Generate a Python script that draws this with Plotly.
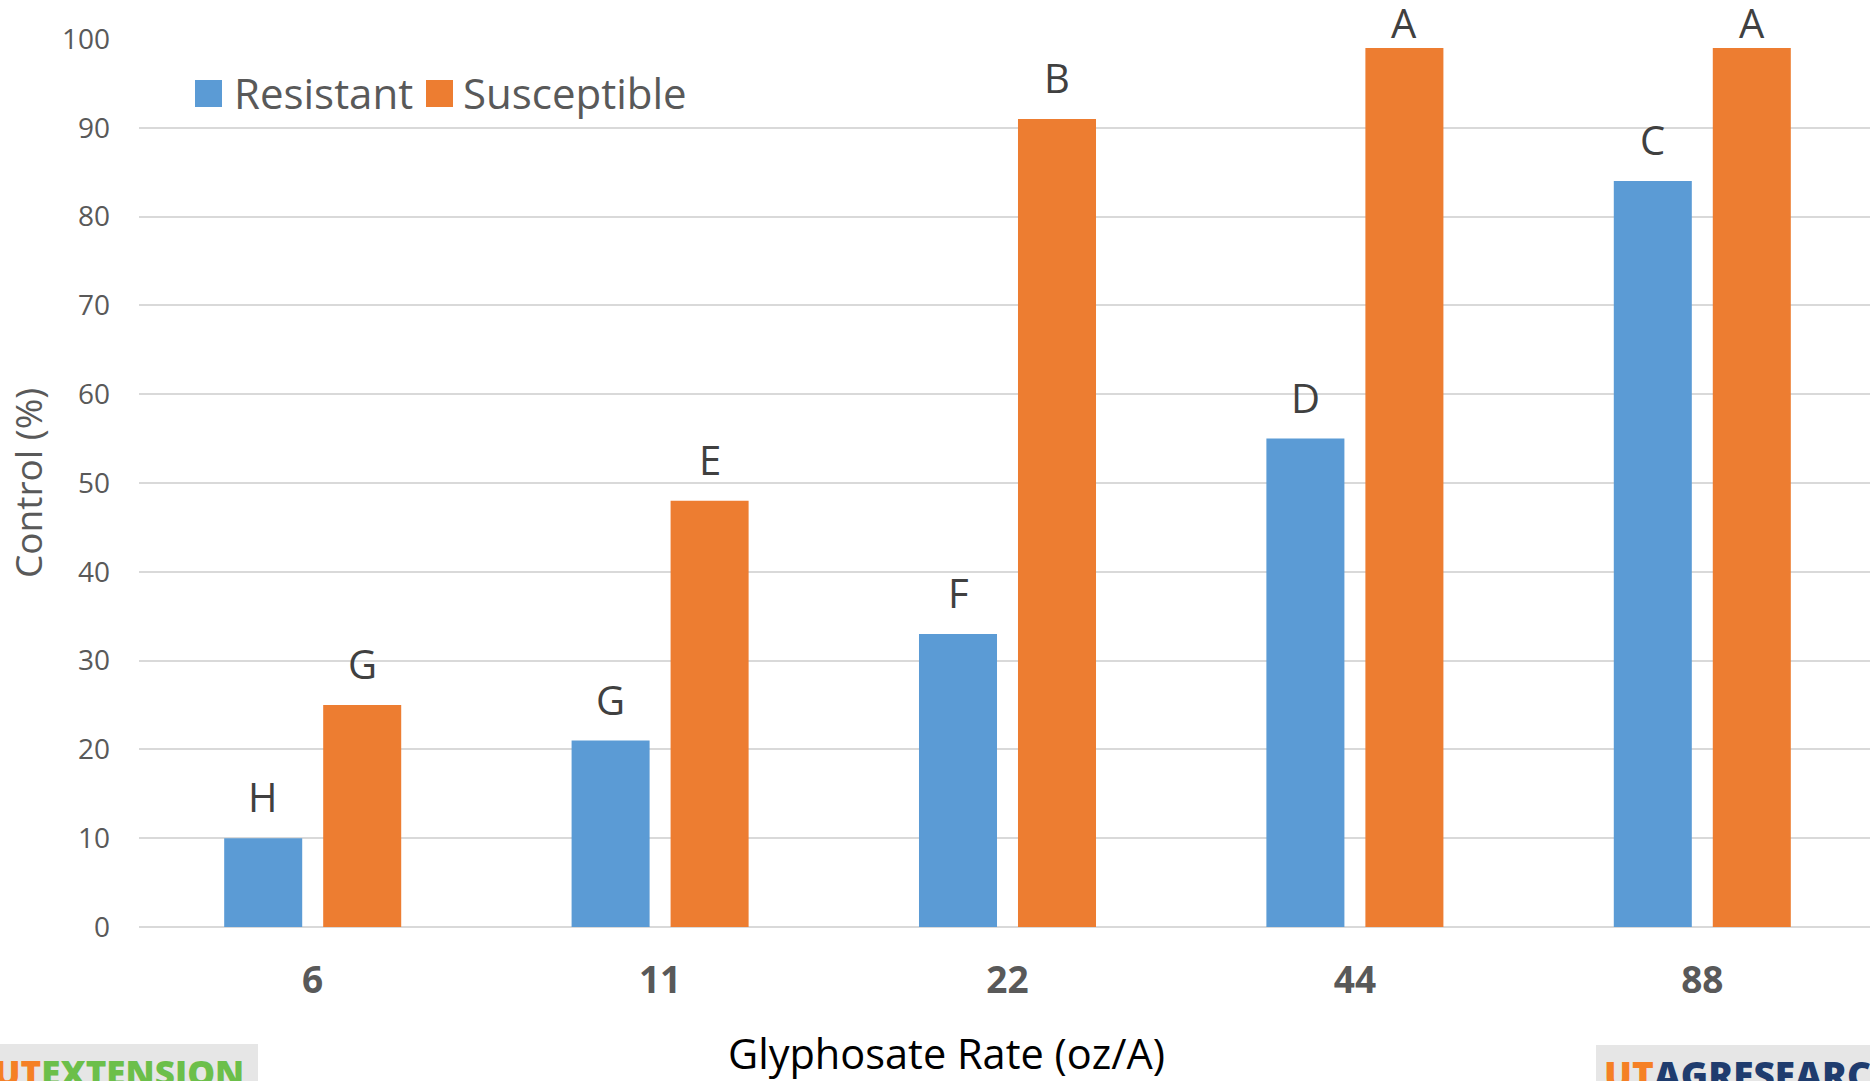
import plotly.graph_objects as go

# Glyphosate dose-response: percent control by biotype
rates = ["6", "11", "22", "44", "88"]
series_names = ["Resistant", "Susceptible"]
resistant = [10, 21, 33, 55, 84]
susceptible = [25, 48, 91, 99, 99]
resistant_letters = ["H", "G", "F", "D", "C"]
susceptible_letters = ["G", "E", "B", "A", "A"]
y_ticks = [0, 10, 20, 30, 40, 50, 60, 70, 80, 90, 100]

BLUE = "#5b9bd5"
ORANGE = "#ed7d31"
GRID = "#d9d9d9"
AXIS_TXT = "#595959"
LABEL_TXT = "#404040"
FONT = "Open Sans"

W, H = 1870, 1081
L, R, T, B = 139, 0, 39, 154
PW, PH = W - L - R, H - T - B
CAT_PX = 347.4  # pixel width of one category slot
BARGAP = 0.43
GROUPGAP = 0.212


def px_x(px):
    return (px - L) / PW


def px_y(py):
    return (H - B - py) / PH


fig = go.Figure()
fig.add_trace(go.Bar(x=list(range(len(rates))), y=resistant, name=series_names[0],
                     marker=dict(color=BLUE, line=dict(width=0)), showlegend=False))
fig.add_trace(go.Bar(x=list(range(len(rates))), y=susceptible, name=series_names[1],
                     marker=dict(color=ORANGE, line=dict(width=0)), showlegend=False))

annotations = []
offset = (1 - BARGAP) / 4
for vals, letters, sign in [(resistant, resistant_letters, -1), (susceptible, susceptible_letters, 1)]:
    for i, (v, t) in enumerate(zip(vals, letters)):
        annotations.append(dict(
            x=i + sign * offset, y=v, xref="x", yref="y", text=t, showarrow=False,
            yanchor="bottom", yshift=12 if v < 95 else -4,
            font=dict(family=FONT, size=40, color=LABEL_TXT)))

# axis titles
annotations.append(dict(x=px_x(946), y=px_y(1053), xref="paper", yref="paper",
                        text="Glyphosate Rate (oz/A)", showarrow=False,
                        xanchor="center", yanchor="middle",
                        font=dict(family=FONT, size=41.5, color="#000000")))
annotations.append(dict(x=px_x(27), y=0.5, xref="paper", yref="paper",
                        text="Control (%)", showarrow=False, textangle=-90,
                        xanchor="center", yanchor="middle",
                        font=dict(family=FONT, size=37, color=AXIS_TXT)))

# legend drawn as swatches + labels
shapes = []
legend_items = [(195, 235, BLUE, series_names[0]), (426, 464, ORANGE, series_names[1])]
for sx, tx, col, name in legend_items:
    shapes.append(dict(type="rect", xref="paper", yref="paper",
                       x0=px_x(sx), x1=px_x(sx + 27), y0=px_y(107), y1=px_y(80),
                       fillcolor=col, line=dict(width=0)))
    annotations.append(dict(x=px_x(tx - 3), y=px_y(92), xref="paper", yref="paper",
                            text=name, showarrow=False, xanchor="left", yanchor="middle",
                            font=dict(family=FONT, size=42, color=AXIS_TXT)))

# footer logos
shapes.append(dict(type="rect", xref="paper", yref="paper", x0=px_x(0), x1=px_x(258),
                   y0=px_y(1085), y1=px_y(1044), fillcolor="#e6e6e6", line=dict(width=0),
                   layer="below"))
shapes.append(dict(type="rect", xref="paper", yref="paper", x0=px_x(1596), x1=px_x(1875),
                   y0=px_y(1085), y1=px_y(1045), fillcolor="#e6e6e6", line=dict(width=0),
                   layer="below"))
annotations.append(dict(x=px_x(-8), y=px_y(1047), xref="paper", yref="paper",
                        text="<span style='color:#f58025'>UT</span>EXTENSION",
                        showarrow=False, xanchor="left", yanchor="top",
                        font=dict(family=FONT, size=35, color="#6cbf4a", weight=800)))
annotations.append(dict(x=px_x(1602), y=px_y(1047), xref="paper", yref="paper",
                        text="<span style='color:#f58025'>UT</span>AGRESEARCH",
                        showarrow=False, xanchor="left", yanchor="top",
                        font=dict(family=FONT, size=37, color="#1f3c6e", weight=800)))

fig.update_layout(
    width=W, height=H,
    margin=dict(l=L, r=R, t=T, b=B, pad=0),
    paper_bgcolor="white", plot_bgcolor="white",
    barmode="group", bargap=BARGAP, bargroupgap=GROUPGAP,
    showlegend=False,
    annotations=annotations, shapes=shapes,
    font=dict(family=FONT, color=AXIS_TXT),
)
fig.update_xaxes(
    tickmode="array", tickvals=list(range(len(rates))), ticktext=rates,
    range=[-0.5, -0.5 + PW / CAT_PX],
    showgrid=False, zeroline=False, showline=False, ticks="",
    tickfont=dict(family=FONT, size=37, color=AXIS_TXT, weight="bold"),
    ticklabelstandoff=28,
)
fig.update_yaxes(
    range=[0, 100], tickmode="array", tickvals=y_ticks,
    showgrid=True, gridcolor=GRID, gridwidth=1.5,
    zeroline=True, zerolinecolor=GRID, zerolinewidth=1.5,
    showline=False, ticks="",
    tickfont=dict(family=FONT, size=28, color=AXIS_TXT),
    ticklabelstandoff=28,
)

fig.write_html("out.html")
